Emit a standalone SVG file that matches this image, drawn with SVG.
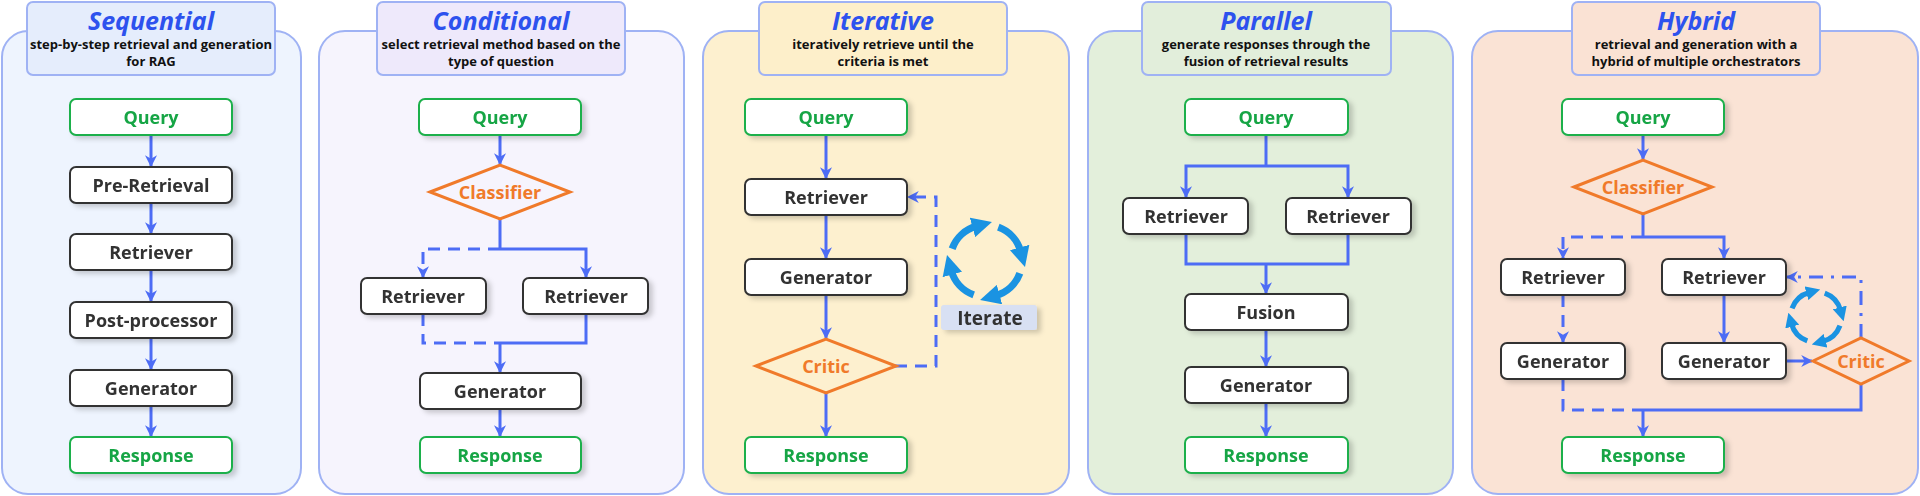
<svg xmlns="http://www.w3.org/2000/svg" width="1920" height="496" viewBox="0 0 1920 496">
<style>
.panel{stroke:#9fb2f4;stroke-width:2}
.tbox{stroke:#9fb2f4;stroke-width:2}
.title{font-family:"Open Sans","Liberation Sans",sans-serif;font-weight:bold;font-style:italic;font-size:25px;fill:#2d52ee;text-anchor:middle}
.sub{font-family:"Open Sans","Liberation Sans",sans-serif;font-weight:bold;font-size:13px;fill:#111;text-anchor:middle}
.n{fill:#fff;stroke:#333;stroke-width:2}
.g{fill:#fff;stroke:#1fb04b;stroke-width:2}
.t{font-family:"Open Sans","Liberation Sans",sans-serif;font-weight:bold;font-size:18px;fill:#333;text-anchor:middle;dominant-baseline:central}
.tg{fill:#15a544}
.to{fill:#f07a2a}
.d{fill:none;stroke:#f07a2a;stroke-width:3}
.c{fill:none;stroke:#4d6cf5;stroke-width:3}
.ca{marker-end:url(#ar)}
.dash{stroke-dasharray:12 8}
.dd{stroke-dasharray:14 8 3 8}
.cy{fill:none;stroke:#1a93e2;stroke-width:6;marker-end:url(#cyA)}
</style>
<defs>
<marker id="ar" markerUnits="userSpaceOnUse" markerWidth="12" markerHeight="12" viewBox="0 0 10 10" refX="9" refY="5" orient="auto">
<path d="M0,0 L10,5 L0,10 L3,5 z" fill="#4d6cf5"/>
</marker>
<marker id="cyA" markerUnits="strokeWidth" markerWidth="2.8" markerHeight="2.8" viewBox="0 0 10 10" refX="2" refY="5" orient="auto">
<path d="M0,0 L10,5 L0,10 z" fill="#1a93e2"/>
</marker>
<filter id="sh" x="-10%" y="-20%" width="125%" height="150%">
<feDropShadow dx="4" dy="3" stdDeviation="2.5" flood-color="#000" flood-opacity="0.18"/>
</filter>
<g id="cycle">
<path class="cy" d="M-28.19,-10.26 A30,30 0 0 1 -8,-28.9"/>
<path class="cy" d="M10.26,-28.19 A30,30 0 0 1 28.9,-8"/>
<path class="cy" d="M28.19,10.26 A30,30 0 0 1 8,28.9"/>
<path class="cy" d="M-10.26,28.19 A30,30 0 0 1 -28.9,8"/>
</g>
</defs>

<g id="panel-sequential">
<rect class="panel" x="2" y="31" width="299" height="463" rx="26" fill="#eef4fe"/>
<rect class="tbox" x="27" y="2" width="248" height="73" rx="6" fill="#e5edfc"/>
<text class="title" x="151" y="30">Sequential</text>
<text class="sub" x="151" y="49">step-by-step retrieval and generation</text>
<text class="sub" x="151" y="66">for RAG</text>
</g>
<g id="panel-conditional">
<rect class="panel" x="319" y="31" width="365" height="463" rx="26" fill="#f6f4fd"/>
<rect class="tbox" x="377" y="2" width="248" height="73" rx="6" fill="#eee9fb"/>
<text class="title" x="501" y="30">Conditional</text>
<text class="sub" x="501" y="49">select retrieval method based on the</text>
<text class="sub" x="501" y="66">type of question</text>
</g>
<g id="panel-iterative">
<rect class="panel" x="703" y="31" width="366" height="463" rx="26" fill="#fdf0cf"/>
<rect class="tbox" x="759" y="2" width="248" height="73" rx="6" fill="#fdefca"/>
<text class="title" x="883" y="30">Iterative</text>
<text class="sub" x="883" y="49">iteratively retrieve until the</text>
<text class="sub" x="883" y="66">criteria is met</text>
</g>
<g id="panel-parallel">
<rect class="panel" x="1088" y="31" width="365" height="463" rx="26" fill="#e3efdb"/>
<rect class="tbox" x="1142" y="2" width="249" height="73" rx="6" fill="#e2eedb"/>
<text class="title" x="1266" y="30">Parallel</text>
<text class="sub" x="1266" y="49">generate responses through the</text>
<text class="sub" x="1266" y="66">fusion of retrieval results</text>
</g>
<g id="panel-hybrid">
<rect class="panel" x="1472" y="31" width="446" height="463" rx="26" fill="#fae3d5"/>
<rect class="tbox" x="1572" y="2" width="248" height="73" rx="6" fill="#fae2d4"/>
<text class="title" x="1696" y="30">Hybrid</text>
<text class="sub" x="1696" y="49">retrieval and generation with a</text>
<text class="sub" x="1696" y="66">hybrid of multiple orchestrators</text>
</g>

<g id="connectors">
<path class="c ca" d="M151,135 V166"/>
<path class="c ca" d="M151,203 V233"/>
<path class="c ca" d="M151,270 V301"/>
<path class="c ca" d="M151,338 V369"/>
<path class="c ca" d="M151,406 V436"/>
<path class="c ca" d="M500,135 V164"/>
<path class="c" d="M500,219 V249"/>
<path class="c dash ca" d="M500,249 H423 V277"/>
<path class="c ca" d="M500,249 H586 V277"/>
<path class="c dash" d="M423,314 V343 H500"/>
<path class="c" d="M586,314 V343 H500"/>
<path class="c ca" d="M500,343 V372"/>
<path class="c ca" d="M500,409 V436"/>
<path class="c ca" d="M826,135 V178"/>
<path class="c ca" d="M826,215 V258"/>
<path class="c ca" d="M826,295 V338"/>
<path class="c ca" d="M826,393 V436"/>
<path class="c dash ca" d="M895,366 H936 V197 H908"/>
<path class="c" d="M1266,135 V166"/>
<path class="c ca" d="M1266,166 H1186 V197"/>
<path class="c ca" d="M1266,166 H1348 V197"/>
<path class="c" d="M1186,234 V264 H1348 V234"/>
<path class="c ca" d="M1266,264 V293"/>
<path class="c ca" d="M1266,330 V366"/>
<path class="c ca" d="M1266,402 V436"/>
<path class="c ca" d="M1643,135 V159"/>
<path class="c" d="M1643,214 V237"/>
<path class="c dash ca" d="M1643,237 H1563 V258"/>
<path class="c ca" d="M1643,237 H1724 V258"/>
<path class="c dash ca" d="M1563,295 V342"/>
<path class="c ca" d="M1724,295 V342"/>
<path class="c ca" d="M1786,361 H1812"/>
<path class="c dd ca" d="M1861,338 V277 H1787"/>
<path class="c dash" d="M1563,379 V410 H1643"/>
<path class="c" d="M1861,383 V410 H1643"/>
<path class="c ca" d="M1643,410 V436"/>
</g>

<g id="seq-query" filter="url(#sh)"><rect class="g" x="70" y="99" width="162" height="36" rx="6"/><text class="t tg" x="151" y="117">Query</text></g>
<g id="seq-pre" filter="url(#sh)"><rect class="n" x="70" y="167" width="162" height="36" rx="6"/><text class="t" x="151" y="185">Pre-Retrieval</text></g>
<g id="seq-retriever" filter="url(#sh)"><rect class="n" x="70" y="234" width="162" height="36" rx="6"/><text class="t" x="151" y="252">Retriever</text></g>
<g id="seq-post" filter="url(#sh)"><rect class="n" x="70" y="302" width="162" height="36" rx="6"/><text class="t" x="151" y="320">Post-processor</text></g>
<g id="seq-generator" filter="url(#sh)"><rect class="n" x="70" y="370" width="162" height="36" rx="6"/><text class="t" x="151" y="388">Generator</text></g>
<g id="seq-response" filter="url(#sh)"><rect class="g" x="70" y="437" width="162" height="36" rx="6"/><text class="t tg" x="151" y="455">Response</text></g>

<g id="cond-query" filter="url(#sh)"><rect class="g" x="419" y="99" width="162" height="36" rx="6"/><text class="t tg" x="500" y="117">Query</text></g>
<g id="cond-classifier"><polygon class="d" points="430,192 500,165 570,192 500,219"/><text class="t to" x="500" y="192">Classifier</text></g>
<g id="cond-ret1" filter="url(#sh)"><rect class="n" x="361" y="278" width="125" height="36" rx="6"/><text class="t" x="423" y="296">Retriever</text></g>
<g id="cond-ret2" filter="url(#sh)"><rect class="n" x="523" y="278" width="125" height="36" rx="6"/><text class="t" x="586" y="296">Retriever</text></g>
<g id="cond-generator" filter="url(#sh)"><rect class="n" x="420" y="373" width="161" height="36" rx="6"/><text class="t" x="500" y="391">Generator</text></g>
<g id="cond-response" filter="url(#sh)"><rect class="g" x="420" y="437" width="161" height="36" rx="6"/><text class="t tg" x="500" y="455">Response</text></g>

<g id="iter-query" filter="url(#sh)"><rect class="g" x="745" y="99" width="162" height="36" rx="6"/><text class="t tg" x="826" y="117">Query</text></g>
<g id="iter-retriever" filter="url(#sh)"><rect class="n" x="745" y="179" width="162" height="36" rx="6"/><text class="t" x="826" y="197">Retriever</text></g>
<g id="iter-generator" filter="url(#sh)"><rect class="n" x="745" y="259" width="162" height="36" rx="6"/><text class="t" x="826" y="277">Generator</text></g>
<g id="iter-critic"><polygon class="d" points="756,366 826,339 896,366 826,393"/><text class="t to" x="826" y="366">Critic</text></g>
<g id="iter-response" filter="url(#sh)"><rect class="g" x="745" y="437" width="162" height="36" rx="6"/><text class="t tg" x="826" y="455">Response</text></g>
<g id="iter-cycle"><use href="#cycle" transform="translate(986,261) scale(1.2)"/></g>
<g id="iter-label" filter="url(#sh)"><rect x="941" y="305" width="96" height="25" rx="3" fill="#d8e0f3"/><text class="t" x="990" y="318" style="font-size:19px">Iterate</text></g>

<g id="par-query" filter="url(#sh)"><rect class="g" x="1185" y="99" width="163" height="36" rx="6"/><text class="t tg" x="1266" y="117">Query</text></g>
<g id="par-ret1" filter="url(#sh)"><rect class="n" x="1123" y="198" width="125" height="36" rx="6"/><text class="t" x="1186" y="216">Retriever</text></g>
<g id="par-ret2" filter="url(#sh)"><rect class="n" x="1286" y="198" width="125" height="36" rx="6"/><text class="t" x="1348" y="216">Retriever</text></g>
<g id="par-fusion" filter="url(#sh)"><rect class="n" x="1185" y="294" width="163" height="36" rx="6"/><text class="t" x="1266" y="312">Fusion</text></g>
<g id="par-generator" filter="url(#sh)"><rect class="n" x="1185" y="367" width="163" height="36" rx="6"/><text class="t" x="1266" y="385">Generator</text></g>
<g id="par-response" filter="url(#sh)"><rect class="g" x="1185" y="437" width="163" height="36" rx="6"/><text class="t tg" x="1266" y="455">Response</text></g>

<g id="hyb-query" filter="url(#sh)"><rect class="g" x="1562" y="99" width="162" height="36" rx="6"/><text class="t tg" x="1643" y="117">Query</text></g>
<g id="hyb-classifier"><polygon class="d" points="1574,187 1643,160 1712,187 1643,214"/><text class="t to" x="1643" y="187">Classifier</text></g>
<g id="hyb-ret1" filter="url(#sh)"><rect class="n" x="1501" y="259" width="124" height="36" rx="6"/><text class="t" x="1563" y="277">Retriever</text></g>
<g id="hyb-ret2" filter="url(#sh)"><rect class="n" x="1662" y="259" width="124" height="36" rx="6"/><text class="t" x="1724" y="277">Retriever</text></g>
<g id="hyb-gen1" filter="url(#sh)"><rect class="n" x="1501" y="343" width="124" height="36" rx="6"/><text class="t" x="1563" y="361">Generator</text></g>
<g id="hyb-gen2" filter="url(#sh)"><rect class="n" x="1662" y="343" width="124" height="36" rx="6"/><text class="t" x="1724" y="361">Generator</text></g>
<g id="hyb-critic"><polygon class="d" points="1813,361 1861,338 1909,361 1861,384"/><text class="t to" x="1861" y="361">Critic</text></g>
<g id="hyb-cycle"><use href="#cycle" transform="translate(1816,317) scale(0.85)"/></g>
<g id="hyb-response" filter="url(#sh)"><rect class="g" x="1562" y="437" width="162" height="36" rx="6"/><text class="t tg" x="1643" y="455">Response</text></g>
</svg>
